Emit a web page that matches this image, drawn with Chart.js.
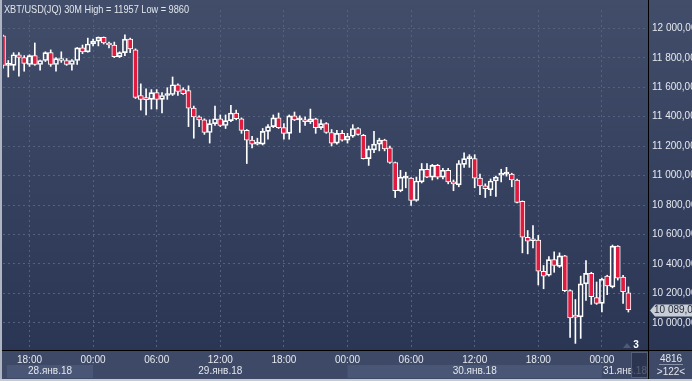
<!DOCTYPE html>
<html>
<head>
<meta charset="utf-8">
<script src="https://cdn.jsdelivr.net/npm/chart.js@4.4.1/dist/chart.umd.min.js"></script>
<style>
  html, body { margin: 0; padding: 0; background: #3d4966; }
  #wrap { width: 692px; height: 381px; }
</style>
</head>
<body>
<div id="wrap"><canvas id="chart" width="692" height="381"></canvas></div>
<script>
// XBT/USD 30M candles, 28.01.18 15:30 .. 31.01.18 02:30
const openPrices = [
  11950, 11749, 11749, 11821, 11802, 11755, 11815, 11755, 11782, 11835,
  11755, 11795, 11782, 11755, 11782, 11868, 11841, 11894, 11914, 11940,
  11901, 11887, 11808, 11835, 11927, 11854, 11544, 11518, 11518, 11564,
  11518, 11544, 11551, 11617, 11584, 11577, 11458, 11399, 11379, 11293,
  11353, 11386, 11340, 11373, 11425, 11386, 11307, 11241, 11214, 11214,
  11300, 11333, 11392, 11326, 11287, 11406, 11379, 11379, 11366, 11386,
  11326, 11353, 11293, 11221, 11287, 11241, 11267, 11320, 11274, 11115,
  11175, 11214, 11241, 11188, 11089, 10897, 10983, 10983, 10831, 10957,
  11043, 10990, 11069, 10990, 11036, 10957, 10937, 11076, 11115, 11115,
  10983, 10930, 10904, 10963, 11003, 11010, 11010, 10970, 10825, 10581,
  10561, 10561, 10350, 10323, 10429, 10383, 10455, 10218, 10040, 10040,
  10264, 10336, 10171, 10132, 10317, 10244, 10521, 10310, 10204
]
const highPrices = [
  11955, 11782, 11835, 11835, 11815, 11821, 11901, 11785, 11841, 11854,
  11802, 11841, 11795, 11788, 11870, 11887, 11934, 11927, 11942, 11942,
  11907, 11907, 11841, 11957, 11934, 11861, 11623, 11590, 11584, 11584,
  11564, 11597, 11670, 11623, 11597, 11610, 11472, 11406, 11386, 11379,
  11472, 11412, 11412, 11478, 11445, 11392, 11313, 11267, 11254, 11320,
  11346, 11412, 11425, 11353, 11412, 11432, 11406, 11399, 11452, 11390,
  11379, 11360, 11313, 11307, 11307, 11287, 11346, 11326, 11280, 11201,
  11300, 11254, 11247, 11201, 11092, 11036, 11023, 10986, 10990, 11082,
  11082, 11076, 11076, 11049, 11049, 10970, 11102, 11155, 11142, 11142,
  11010, 10944, 10977, 10996, 11043, 11056, 11016, 10977, 10828, 10627,
  10660, 10594, 10389, 10449, 10482, 10475, 10458, 10224, 10158, 10317,
  10422, 10343, 10277, 10303, 10323, 10528, 10524, 10323, 10244
]
const lowPrices = [
  11729, 11670, 11716, 11676, 11709, 11742, 11749, 11716, 11775, 11742,
  11709, 11769, 11749, 11716, 11755, 11828, 11838, 11881, 11881, 11894,
  11868, 11802, 11802, 11815, 11835, 11524, 11445, 11412, 11452, 11452,
  11425, 11518, 11544, 11544, 11551, 11333, 11254, 11333, 11280, 11221,
  11340, 11333, 11320, 11366, 11379, 11287, 11082, 11188, 11208, 11208,
  11247, 11326, 11320, 11247, 11247, 11373, 11293, 11340, 11353, 11287,
  11313, 11287, 11201, 11214, 11234, 11221, 11260, 11274, 11112, 11069,
  11155, 11168, 11168, 11082, 10851, 10890, 10917, 10798, 10825, 10950,
  10985, 10970, 10977, 10977, 10944, 10897, 10924, 11056, 11056, 10917,
  10871, 10851, 10864, 10858, 10957, 10996, 10924, 10815, 10475, 10468,
  10508, 10257, 10231, 10317, 10343, 10376, 10211, 9901, 9860, 9894,
  10152, 10125, 10125, 10073, 10191, 10237, 10290, 10132, 10073
]
const closePrices = [
  11749, 11752, 11821, 11802, 11762, 11815, 11755, 11782, 11835, 11755,
  11795, 11782, 11755, 11782, 11868, 11841, 11894, 11914, 11940, 11901,
  11887, 11808, 11835, 11927, 11861, 11531, 11518, 11516, 11564, 11518,
  11544, 11551, 11617, 11571, 11557, 11458, 11399, 11379, 11293, 11353,
  11386, 11340, 11373, 11425, 11386, 11307, 11241, 11214, 11221, 11300,
  11333, 11392, 11326, 11287, 11406, 11379, 11381, 11366, 11386, 11326,
  11353, 11293, 11221, 11287, 11241, 11267, 11320, 11280, 11115, 11181,
  11214, 11241, 11181, 11089, 10897, 10990, 10985, 10831, 10963, 11043,
  10990, 11069, 10990, 11036, 10957, 10944, 11082, 11115, 11117, 10983,
  10930, 10911, 10963, 10990, 11010, 11011, 10970, 10818, 10581, 10554,
  10557, 10350, 10317, 10429, 10389, 10455, 10218, 10033, 10038, 10264,
  10336, 10178, 10132, 10297, 10251, 10521, 10303, 10211, 10089
]

// bar index of each time label, and the labels
const timeTickIndex = [5, 17, 29, 41, 53, 65, 77, 89, 101, 113]
const timeTicks = ['18:00', '00:00', '06:00', '12:00', '18:00', '00:00', '06:00', '12:00', '18:00', '00:00']
const dateLabels = ['28.янв.18', '29.янв.18', '30.янв.18', '31.янв.18']
const dayStartIndex = [17, 65, 113]
const priceTicks = [10000, 10200, 10400, 10600, 10800, 11000, 11200, 11400, 11600, 11800, 12000]

const titleText = 'XBT/USD(JQ) 30M High = 11957 Low = 9860'
const barsCount = '4816'
const barsShift = '>122<'

const RED = '#e11a3f'
const FONT = '"Liberation Sans", Arial, sans-serif'

const formatPrice = (v, decimals) => {
  const s = String(Math.round(v))
  return s.slice(0, -3) + ' ' + s.slice(-3) + ',' + '0'.repeat(decimals)
}

const bodies = openPrices.map((o, i) => ({x: i, y: [o, closePrices[i]]}))
const upperWicks = openPrices.map((o, i) => ({x: i, y: [Math.max(o, closePrices[i]), highPrices[i]]}))
const lowerWicks = openPrices.map((o, i) => ({x: i, y: [lowPrices[i], Math.min(o, closePrices[i])]}))

// draw text squeezed to a given width (terminal font is narrower than Arial)
const narrowText = (ctx, text, x, y, maxW) => {
  const w = ctx.measureText(text).width
  const k = Math.min(1, maxW / w)
  ctx.save()
  ctx.translate(x, y)
  ctx.scale(k, 1)
  ctx.fillText(text, 0, 0)
  ctx.restore()
}

const framePlugin = {
  id: 'frame',
  beforeDraw(chart) {
    const {ctx, chartArea: a, width, height} = chart
    const x = chart.scales.x
    ctx.save()
    const g = ctx.createLinearGradient(0, 0, 0, a.bottom)
    g.addColorStop(0, '#414d69')
    g.addColorStop(1, '#2b3655')
    ctx.fillStyle = g
    ctx.fillRect(0, 0, width, a.bottom)

    ctx.fillStyle = '#3d4966'
    ctx.fillRect(0, a.bottom, width, height - a.bottom)

    // alternate day boxes
    const edges = [a.left + 4, ...dayStartIndex.map(i => x.getPixelForValue(i)), a.right]
    ctx.fillStyle = '#4a5675'
    ctx.fillRect(edges[0], 365, edges[1] - edges[0], 13)
    ctx.fillRect(edges[2], 365, edges[3] - edges[2], 13)
    ctx.restore()
  },
  afterDraw(chart) {
    const {ctx, chartArea: a, width, height} = chart
    const x = chart.scales.x
    const y = chart.scales.y
    ctx.save()

    ctx.font = '11px ' + FONT
    ctx.fillStyle = '#e2e6ed'
    ctx.textBaseline = 'middle'
    ctx.textAlign = 'left'
    narrowText(ctx, titleText, 4, 10, 185)

    // day labels
    const edges = [a.left + 4, ...dayStartIndex.map(i => x.getPixelForValue(i)), a.right]
    ctx.font = '10px ' + FONT
    ctx.textAlign = 'center'
    ctx.fillStyle = '#e2e6ed'
    dateLabels.forEach((d, i) => {
      ctx.fillText(d, (edges[i] + edges[i + 1]) / 2, 371)
    })

    // scroll marker
    ctx.fillStyle = 'rgba(38, 47, 72, 0.75)'
    ctx.fillRect(a.right - 17, a.bottom + 2, 17, 26)
    ctx.strokeStyle = '#55607a'
    ctx.strokeRect(a.right - 16.5, a.bottom + 2.5, 16, 25)
    ctx.fillStyle = '#4f5a75'
    ctx.beginPath()
    ctx.moveTo(a.right - 25, a.bottom - 2)
    ctx.lineTo(a.right - 21, a.bottom - 7)
    ctx.lineTo(a.right - 17, a.bottom - 2)
    ctx.fill()
    ctx.fillStyle = '#ffffff'
    ctx.font = 'bold 10px ' + FONT
    ctx.fillText('3', a.right - 12, a.bottom - 5)

    // bar counter box
    ctx.font = '10px ' + FONT
    ctx.fillStyle = '#e2e6ed'
    const cx = (a.right + width) / 2 + 1
    ctx.fillText(barsCount, cx, 359)
    ctx.fillText(barsShift, cx, 372)
    ctx.strokeStyle = '#8a93a6'
    ctx.lineWidth = 1
    ctx.beginPath()
    ctx.moveTo(cx - 12, 364.5)
    ctx.lineTo(cx + 12, 364.5)
    ctx.stroke()

    // separators run through the axis panels
    ctx.strokeStyle = '#000000'
    ctx.beginPath()
    ctx.moveTo(a.right + 0.5, 0)
    ctx.lineTo(a.right + 0.5, height - 2)
    ctx.moveTo(0, a.bottom + 0.5)
    ctx.lineTo(width, a.bottom + 0.5)
    ctx.stroke()

    // last price tag
    const last = closePrices[closePrices.length - 1]
    const py = Math.round(y.getPixelForValue(last)) + 0.5
    ctx.fillStyle = '#c9cdd5'
    ctx.beginPath()
    ctx.moveTo(a.right + 2, py)
    ctx.lineTo(a.right + 7, py - 6)
    ctx.lineTo(width, py - 6)
    ctx.lineTo(width, py + 6)
    ctx.lineTo(a.right + 7, py + 6)
    ctx.closePath()
    ctx.fill()
    ctx.fillStyle = '#1f2636'
    ctx.textAlign = 'left'
    ctx.fillText(formatPrice(last, 1), a.right + 6, py)

    // outer frame
    ctx.fillStyle = '#aeb4c0'
    ctx.fillRect(0, 0, 2, height)
    ctx.fillStyle = '#c6cad2'
    ctx.fillRect(0, height - 2, width, 2)
    ctx.restore()
  }
}

const config = {
  type: 'bar',
  data: {
    datasets: [
      {
        data: bodies,
        order: 0,
        barThickness: 5,
        minBarLength: 2,
        borderWidth: 1,
        borderColor: '#ffffff',
        borderSkipped: false,
        backgroundColor: bodies.map(b => b.y[1] < b.y[0] ? RED : 'rgba(0,0,0,0)'),
      },
      {
        data: upperWicks,
        order: 1,
        barThickness: 1,
        borderWidth: 0,
        backgroundColor: '#ffffff',
      },
      {
        data: lowerWicks,
        order: 1,
        barThickness: 1,
        borderWidth: 0,
        backgroundColor: '#ffffff',
      },
    ]
  },
  options: {
    responsive: false,
    animation: false,
    layout: {padding: {left: 3, top: 0, right: 0, bottom: 0}},
    datasets: {bar: {grouped: false}},
    plugins: {
      legend: {display: false},
      tooltip: {enabled: false},
    },
    scales: {
      x: {
        type: 'linear',
        offset: false,
        min: 0,
        max: 121.7,
        afterFit: (scale) => { scale.height = 31 },
        afterBuildTicks: (scale) => { scale.ticks = timeTickIndex.map(v => ({value: v})) },
        grid: {color: '#56617e', drawTicks: false, offset: false},
        border: {display: true, color: '#000000', width: 1, dash: [2, 3]},
        ticks: {
          autoSkip: false,
          maxRotation: 0,
          padding: 4,
          color: '#e6e9ef',
          font: {family: FONT, size: 10},
          callback: (v) => timeTicks[timeTickIndex.indexOf(v)],
        },
      },
      y: {
        position: 'right',
        min: 9815,
        max: 12125,
        afterFit: (scale) => { scale.width = 44 },
        afterBuildTicks: (scale) => { scale.ticks = priceTicks.map(v => ({value: v})) },
        grid: {color: '#56617e', drawTicks: false},
        border: {display: true, color: '#000000', width: 1, dash: [2, 3]},
        ticks: {
          padding: 4,
          color: '#e6e9ef',
          font: {family: FONT, size: 10},
          callback: (v) => formatPrice(v, 2),
        },
      },
    },
  },
  plugins: [framePlugin],
}

new Chart(document.getElementById('chart'), config)
</script>
</body>
</html>
